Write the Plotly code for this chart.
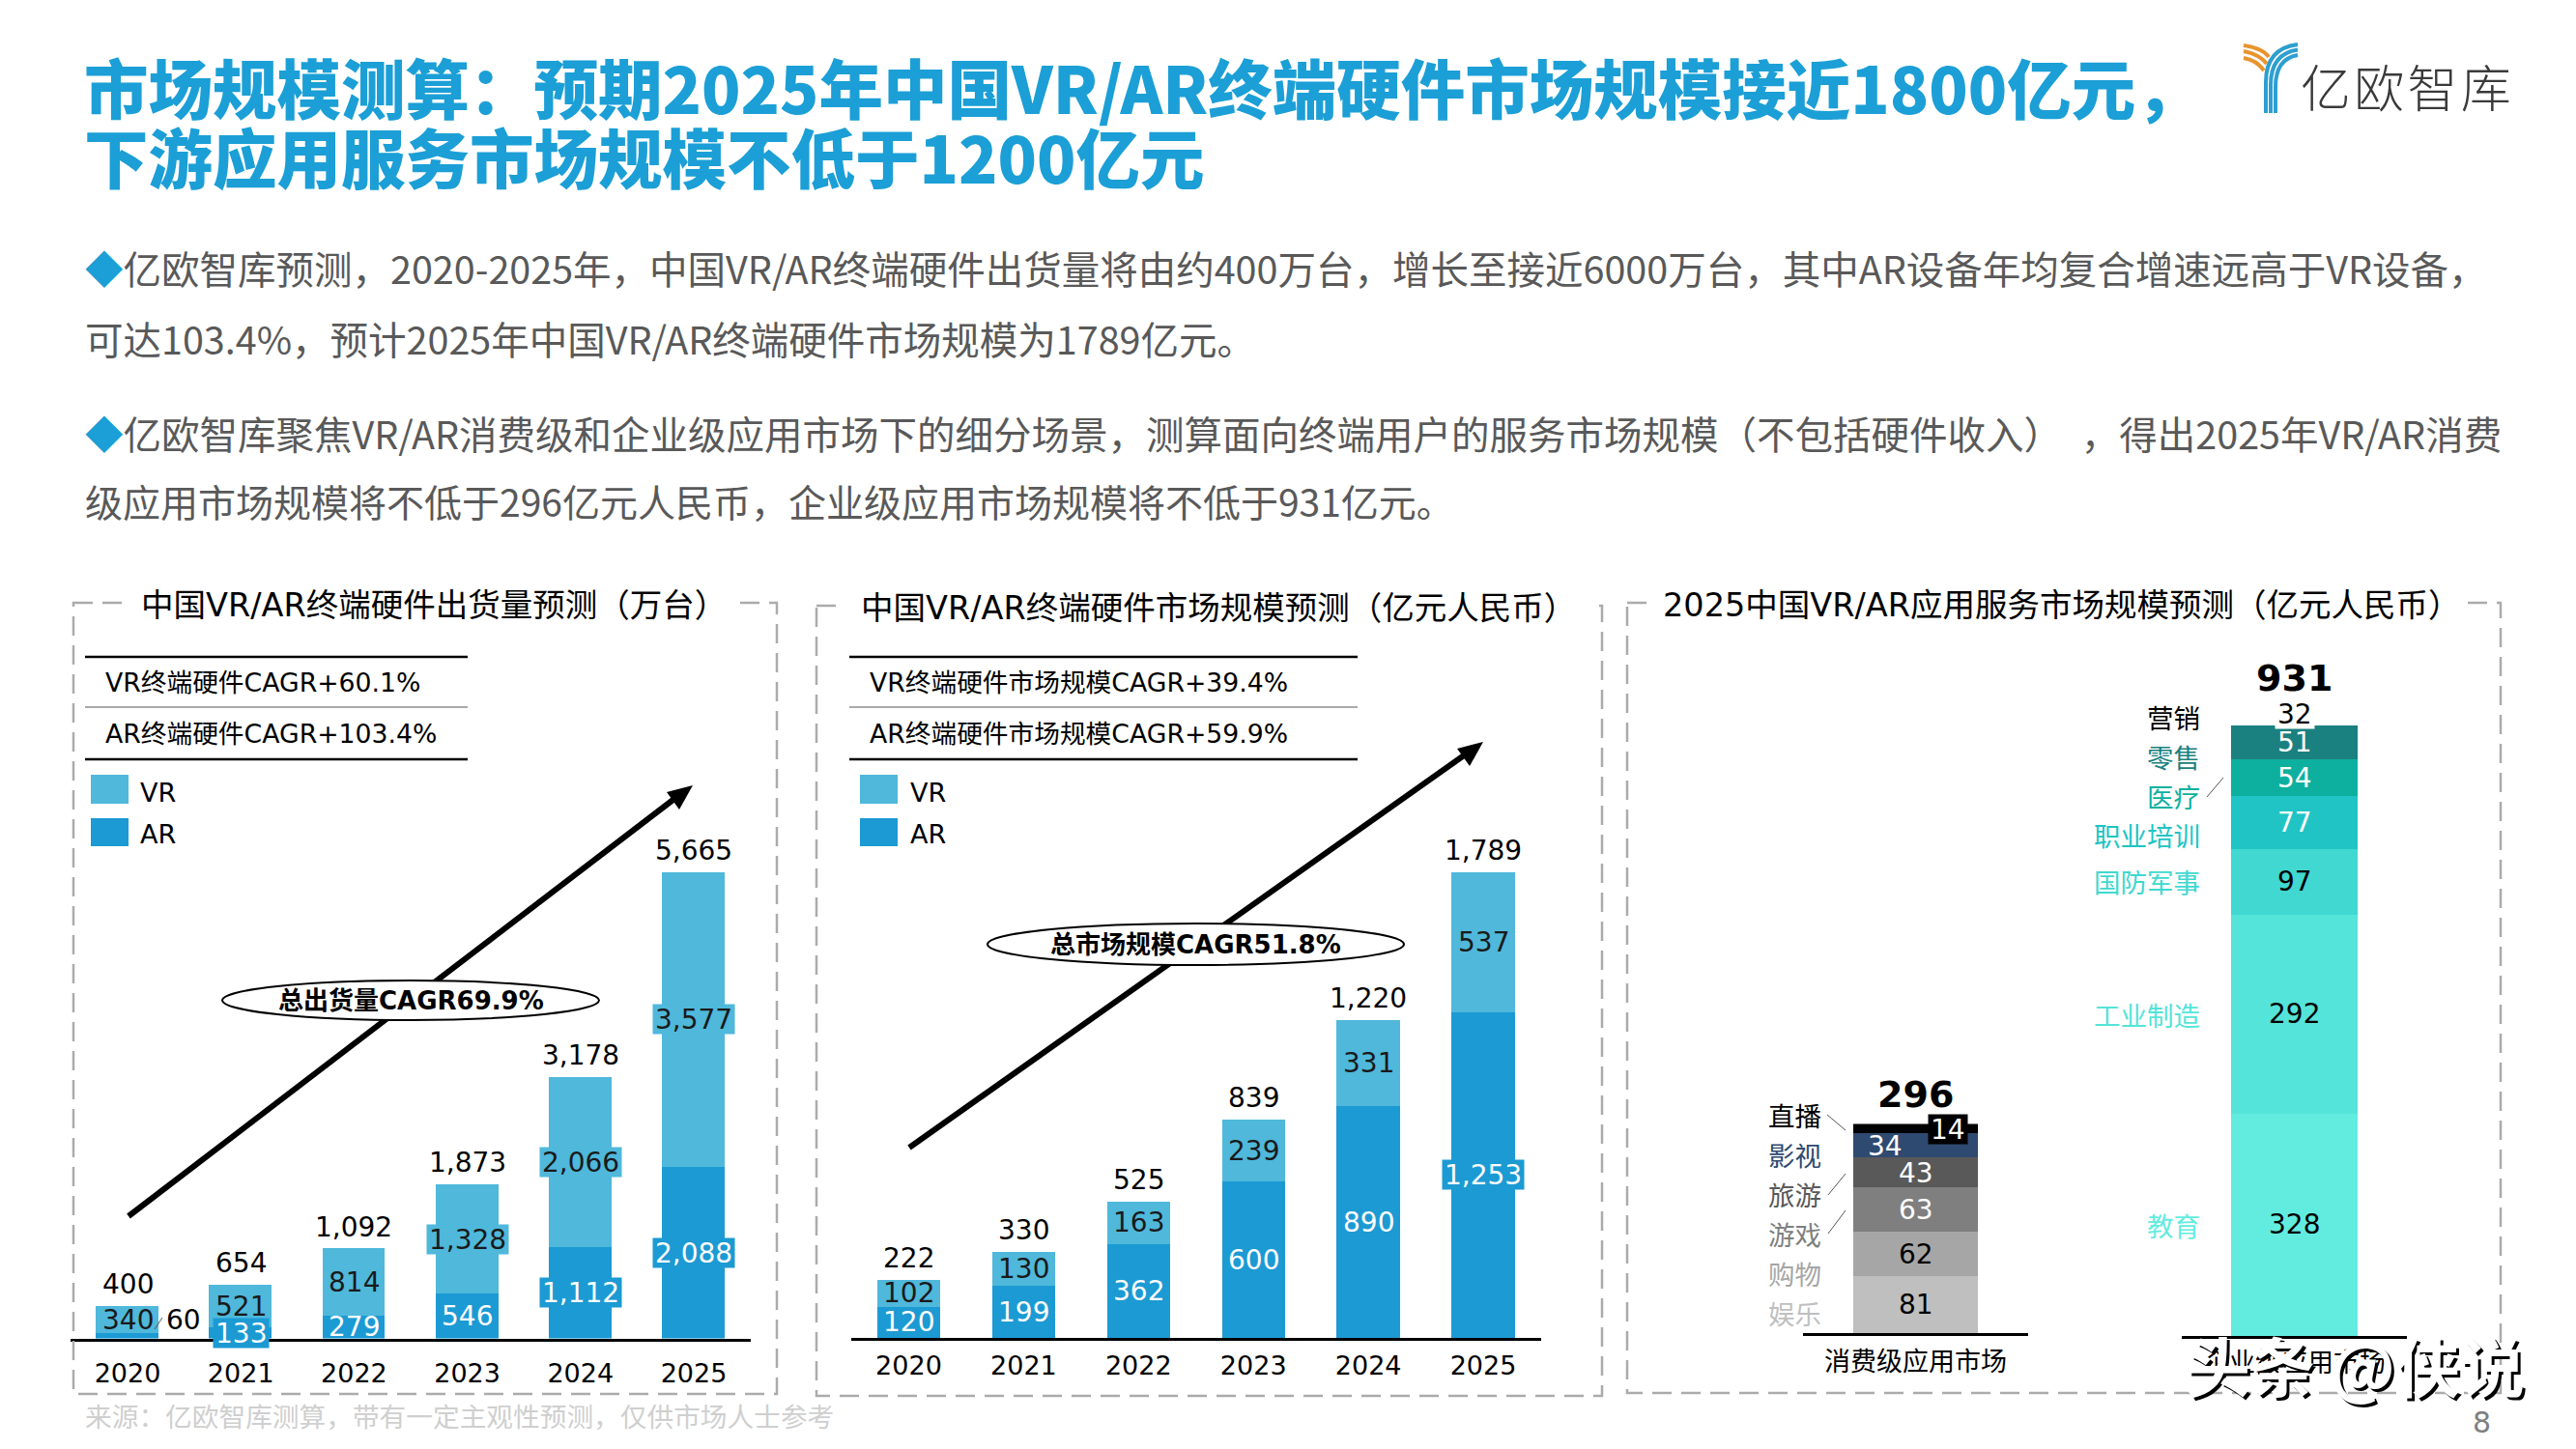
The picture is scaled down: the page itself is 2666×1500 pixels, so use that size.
import plotly.graph_objects as go

# ---------------------------- Chart data ------------------------------- #

years = ["2020", "2021", "2022", "2023", "2024", "2025"]

ship_ar = [60, 133, 279, 546, 1112, 2088]
ship_vr = [340, 521, 814, 1328, 2066, 3577]
ship_total = [400, 654, 1092, 1873, 3178, 5665]

market_ar = [120, 199, 362, 600, 890, 1253]
market_vr = [102, 130, 163, 239, 331, 537]
market_total = [222, 330, 525, 839, 1220, 1789]

consumer_names = ["娱乐", "购物", "游戏", "旅游", "影视", "直播"]
consumer_values = [81, 62, 63, 43, 34, 14]
consumer_total = 296

enterprise_names = ["教育", "工业制造", "国防军事", "职业培训", "医疗", "零售", "营销"]
enterprise_values = [328, 292, 97, 77, 54, 51, 32]
enterprise_total = 931

# ---------------------------- Styles and helpers ------------------------------- #

# the page body keeps its 8px margin, so the figure is 16px smaller than the window
M = 8
W, H = 2666, 1500
VR_COLOR = "#4fb8db"
AR_COLOR = "#1c9ad3"
BLUE = "#1b9fd6"
DASH = "#ababab"
LATIN = "DejaVu Sans, Noto Sans CJK SC"
CJK = "Noto Sans CJK SC"

consumer_colors = ["#bfbfbf", "#a6a6a6", "#7f7f7f", "#595959", "#2f4a70", "#000000"]
consumer_text = ["#000000", "#000000", "#ffffff", "#ffffff", "#ffffff", "#ffffff"]
enterprise_colors = ["#62ecdf", "#55e4d9", "#40d8d0", "#20c4c4", "#0db09f", "#1a8080", "#ffffff"]
enterprise_text = ["#000000", "#000000", "#000000", "#ffffff", "#ffffff", "#ffffff", "#000000"]
enterprise_label_colors = ["#62ecdf", "#55e4d9", "#40d8d0", "#20c4c4", "#0db09f", "#1a8080", "#000000"]

fig = go.Figure()
shapes = []
notes = []


def px(x):
    return (x - M) / (W - 2 * M)


def py(y):
    return 1 - (y - M) / (H - 2 * M)


def text(x, y, s, size, color="#000000", family=LATIN, anchor="left", weight=None, bg=None):
    font = dict(family=family, size=size, color=color)
    if weight:
        font["weight"] = weight
    notes.append(dict(xref="paper", yref="paper", x=px(x), y=py(y), text=s, showarrow=False,
                      xanchor=anchor, yanchor="middle", font=font, bgcolor=bg, borderpad=0))


def line(x0, y0, x1, y1, color="#000000", width=1.5, dash=None):
    shapes.append(dict(type="line", xref="paper", yref="paper", x0=px(x0), y0=py(y0), x1=px(x1), y1=py(y1),
                       line=dict(color=color, width=width, dash=dash)))


def rect(x0, y0, x1, y1, fill=None, color=None, width=0, dash=None):
    shapes.append(dict(type="rect", xref="paper", yref="paper", x0=px(x0), y0=py(y0), x1=px(x1), y1=py(y1),
                       fillcolor=fill, line=dict(color=color, width=width, dash=dash)))


def curve(points, color, width=4, fill=None):
    # points are (command, x, y, ...) in page pixels
    parts = []
    for p in points:
        coords = [f"{px(v) if i % 2 == 0 else py(v)}" for i, v in enumerate(p[1:])]
        parts.append(p[0] + " " + " ".join(coords))
    path = " ".join(parts)
    shapes.append(dict(type="path", xref="paper", yref="paper", path=path, fillcolor=fill,
                       line=dict(color=color, width=width)))


def seg(xa, ya, cat, y, s, color, bg=None, xshift=0):
    # boxed labels get a fixed height so they do not cover the segment next to them
    note = dict(xref=xa, yref=ya, x=cat, y=y, text=s, showarrow=False, xshift=xshift,
                font=dict(family=LATIN, size=28, color=color), bgcolor=bg, borderpad=2)
    if bg:
        note["height"] = 26
    notes.append(note)


def axes(n, left, right, top, bottom, ymax, standoff, cats):
    # one hidden y axis and one baseline x axis placed by page pixels
    x_name = "xaxis" if n == 1 else f"xaxis{n}"
    y_name = "yaxis" if n == 1 else f"yaxis{n}"
    anchor_x = "x" if n == 1 else f"x{n}"
    anchor_y = "y" if n == 1 else f"y{n}"
    fig.update_layout({
        x_name: dict(domain=[px(left), px(right)], anchor=anchor_y, type="category", categoryorder="array",
                     categoryarray=cats, range=[-0.5, len(cats) - 0.5], showline=True, linecolor="#000000",
                     linewidth=2.5, showgrid=False, zeroline=False, ticks="outside", ticklen=standoff,
                     tickcolor="rgba(0,0,0,0)", tickfont=dict(family=LATIN, size=27, color="#000000")),
        y_name: dict(domain=[py(bottom), py(top)], anchor=anchor_x, range=[0, ymax], visible=False,
                     showgrid=False, zeroline=False),
    })


def stacked_years(n, ar, vr, total, gap):
    xa = "x" if n == 1 else f"x{n}"
    ya = "y" if n == 1 else f"y{n}"
    fig.add_trace(go.Bar(x=years, y=ar, width=gap, marker=dict(color=AR_COLOR, line=dict(width=0)),
                         xaxis=xa, yaxis=ya, name="AR"))
    fig.add_trace(go.Bar(x=years, y=vr, width=gap, marker=dict(color=VR_COLOR, line=dict(width=0)),
                         xaxis=xa, yaxis=ya, name="VR"))
    # annotation x on a category axis reads numeric strings as positions, so use the index
    for i, v in enumerate(total):
        notes.append(dict(xref=xa, yref=ya, x=i, y=v, text=f"{v:,}", showarrow=False, yanchor="bottom", yshift=4,
                          font=dict(family=LATIN, size=28, color="#000000")))


def legend_block(sq_left, txt_left):
    rect(sq_left, 802, sq_left + 39, 832, fill=VR_COLOR)
    rect(sq_left, 847, sq_left + 39, 876, fill=AR_COLOR)
    text(txt_left, 820, "VR", 27)
    text(txt_left, 864, "AR", 27)


def cagr_table(left, right, txt_left, first, second):
    line(left, 680, right, 680, width=2.5)
    line(left, 732, right, 732, color="#555555", width=1)
    line(left, 786, right, 786, width=2.5)
    text(txt_left, 706, first, 26.7)
    text(txt_left, 759, second, 26.7)


def panel_box(x0, y0, x1, y1, gap0, gap1, title, tx):
    rect(x0, y0, x1, y1, color=DASH, width=2.5, dash="20px,10px")
    rect(gap0, y0 - 4, gap1, y0 + 4, fill="#ffffff")
    text(tx, y0 + 2, title, 33.5)


def cagr_arrow(x0, y0, x1, y1, ex0, ey0, ex1, ey1, label):
    line(x0, y0, x1 - 10, y1 + 7, width=6)
    curve([("M", x1, y1), ("L", x1 - 27, y1 + 7), ("L", x1 - 14, y1 + 25), ("Z",)], "#000000", width=0, fill="#000000")
    shapes.append(dict(type="circle", xref="paper", yref="paper", x0=px(ex0), y0=py(ey0), x1=px(ex1), y1=py(ey1),
                       fillcolor="#ffffff", line=dict(color="#000000", width=2)))
    text((ex0 + ex1) / 2, (ey0 + ey1) / 2, label, 26, anchor="center", weight=700)


# ---------------------------- Page header ------------------------------- #

text(86, 89, "市场规模测算：预期2025年中国VR/AR终端硬件市场规模接近1800亿元，", 66.5, color=BLUE, family=CJK, weight=900)
text(86, 161, "下游应用服务市场规模不低于1200亿元", 66.5, color=BLUE, family=CJK, weight=900)

diamond = f"<span style='color:{BLUE}'>◆</span>"
text(87, 277, diamond + "亿欧智库预测，2020-2025年，中国VR/AR终端硬件出货量将由约400万台，增长至接近6000万台，其中AR设备年均复合增速远高于VR设备，",
     39.5, color="#595959", family=CJK)
text(87, 349, "可达103.4%，预计2025年中国VR/AR终端硬件市场规模为1789亿元。", 39.5, color="#595959", family=CJK)
text(87, 447, diamond + "亿欧智库聚焦VR/AR消费级和企业级应用市场下的细分场景，测算面向终端用户的服务市场规模（不包括硬件收入）\u2002，得出2025年VR/AR消费",
     39.5, color="#595959", family=CJK)
text(87, 518, "级应用市场规模将不低于296亿元人民币，企业级应用市场规模将不低于931亿元。", 39, color="#595959", family=CJK)

# logo
for x0, y0, y1 in [(2345, 85, 46), (2350, 88, 51.5), (2355, 90, 57)]:
    curve([("M", x0, 117), ("L", x0, y0), ("Q", x0, y1 + 4, 2378, y1)], "#2d9fd0")
curve([("M", 2322, 47), ("Q", 2342, 50, 2348, 59)], "#e8942e")
curve([("M", 2322, 53), ("Q", 2338, 56, 2346, 66)], "#e8942e")
curve([("M", 2322, 60), ("Q", 2335, 62, 2343, 73)], "#e8942e")
text(2380, 89, "亿\u200a欧\u200a智\u200a库", 52, color="#3a3a3a", family=CJK, weight=300)

# ---------------------------- Left panel: shipments ------------------------------- #

axes(1, 73.4, 776.6, 903, 1385.6, 5665, 10, years)
stacked_years(1, ship_ar, ship_vr, ship_total, 0.553)
panel_box(76, 624, 804, 1443, 132, 763, "中国VR/AR终端硬件出货量预测（万台）", 145)
cagr_table(88, 484, 108, "VR终端硬件CAGR+60.1%", "AR终端硬件CAGR+103.4%")
legend_block(94, 144)
cagr_arrow(133, 1259, 717, 813, 230, 1015, 620, 1056, "总出货量CAGR69.9%")

ship_vr_boxed = {"2023", "2024", "2025"}
ship_ar_boxed = {"2021", "2024", "2025"}
for i, yr in enumerate(years):
    seg("x", "y", i, ship_ar[i] + ship_vr[i] / 2, f"{ship_vr[i]:,}", "#1a1a1a",
        bg=VR_COLOR if yr in ship_vr_boxed else None)
    if yr == "2020":
        seg("x", "y", i, ship_vr[i] / 2 + ship_ar[i], f"{ship_ar[i]}", "#000000", xshift=58)
        line(160, 1376, 168, 1364, color="#555555", width=1)
    else:
        seg("x", "y", i, ship_ar[i] / 2, f"{ship_ar[i]:,}", "#ffffff",
            bg=AR_COLOR if yr in ship_ar_boxed else None)

# ---------------------------- Middle panel: hardware market ------------------------------- #

axes(2, 881, 1594.5, 903, 1385, 1790, 3, years)
stacked_years(2, market_ar, market_vr, market_total, 0.55)
panel_box(845, 627, 1658, 1445, 869, 1646, "中国VR/AR终端硬件市场规模预测（亿元人民币）", 890)
cagr_table(879, 1405, 899, "VR终端硬件市场规模CAGR+39.4%", "AR终端硬件市场规模CAGR+59.9%")
legend_block(890, 941)
cagr_arrow(941, 1188, 1535, 768, 1022, 956, 1453, 999, "总市场规模CAGR51.8%")

for i, yr in enumerate(years):
    seg("x2", "y2", i, market_ar[i] + market_vr[i] / 2, f"{market_vr[i]:,}", "#1a1a1a")
    seg("x2", "y2", i, market_ar[i] / 2, f"{market_ar[i]:,}", "#ffffff", bg=AR_COLOR if yr == "2025" else None)

# ---------------------------- Right panel: services market ------------------------------- #

panel_box(1684, 624, 2588, 1442, 1706, 2551, "2025中国VR/AR应用服务市场规模预测（亿元人民币）", 1720)

axes(3, 1866, 2099, 1163.4, 1380, sum(consumer_values), 4, ["消费级应用市场"])
axes(4, 2258, 2491, 728, 1383.4, sum(enterprise_values), 1, ["企业级应用市场"])

base = 0
for name, val, col, tc in zip(consumer_names, consumer_values, consumer_colors, consumer_text):
    fig.add_trace(go.Bar(x=["消费级应用市场"], y=[val], name=name, width=0.556, xaxis="x3", yaxis="y3",
                         marker=dict(color=col, line=dict(width=0))))
    if name == "直播":
        seg("x3", "y3", "消费级应用市场", base + val / 2, str(val), tc, bg="#000000", xshift=33)
    elif name == "影视":
        seg("x3", "y3", "消费级应用市场", base + val / 2, str(val), tc, xshift=-32)
    else:
        seg("x3", "y3", "消费级应用市场", base + val / 2, str(val), tc)
    base += val

base = 0
for name, val, col, tc in zip(enterprise_names, enterprise_values, enterprise_colors, enterprise_text):
    fig.add_trace(go.Bar(x=["企业级应用市场"], y=[val], name=name, width=0.558, xaxis="x4", yaxis="y4",
                         marker=dict(color=col, line=dict(width=0))))
    seg("x4", "y4", "企业级应用市场", base + val / 2, str(val), tc, bg="#ffffff" if name == "营销" else None)
    base += val

notes.append(dict(xref="x3", yref="y3", x="消费级应用市场", y=consumer_total, text=str(consumer_total), showarrow=False,
                  yanchor="bottom", yshift=7, font=dict(family=LATIN, size=38, color="#000000", weight=700)))
notes.append(dict(xref="x4", yref="y4", x="企业级应用市场", y=enterprise_total, text=str(enterprise_total), showarrow=False,
                  yanchor="bottom", yshift=2, font=dict(family=LATIN, size=38, color="#000000", weight=700)))

# side labels, listed bottom to top like the stacks
consumer_label_y = [1359, 1318, 1277, 1236, 1195, 1154]
for name, col, y in zip(consumer_names, consumer_colors, consumer_label_y):
    text(1886, y, name, 27.5, color=col, family=CJK, anchor="right")
enterprise_label_y = [1268, 1050, 912, 864, 824, 783, 742]
for name, col, y in zip(enterprise_names, enterprise_label_colors, enterprise_label_y):
    text(2277.5, y, name, 27.5, color=col, family=CJK, anchor="right")

line(1891, 1154, 1910, 1170, color="#555555", width=1)
line(1892, 1237, 1910, 1215, color="#555555", width=1)
line(1892, 1277, 1910, 1253, color="#555555", width=1)
line(2284, 825, 2301, 805, color="#555555", width=1)

# ---------------------------- Footer and watermark ------------------------------- #

text(87, 1465, "来源：亿欧智库测算，带有一定主观性预测，仅供市场人士参考", 27.7, color="#cfcfcf", family=CJK)
text(2568, 1472, "8", 30, color="#7f7f7f", anchor="center")
text(2264, 1414, "头条 @侠说", 67, color="#000000", family=CJK, weight=700)
text(2261, 1411, "头条 @侠说", 67, color="#ffffff", family=CJK, weight=700)

# ---------------------------- Layout ------------------------------- #

fig.update_layout(width=W - 2 * M, height=H - 2 * M, margin=dict(l=0, r=0, t=0, b=0), barmode="stack", bargap=0,
                  showlegend=False, paper_bgcolor="#ffffff", plot_bgcolor="rgba(0,0,0,0)",
                  shapes=shapes, annotations=notes, hovermode=False)

fig.write_html("out.html")
